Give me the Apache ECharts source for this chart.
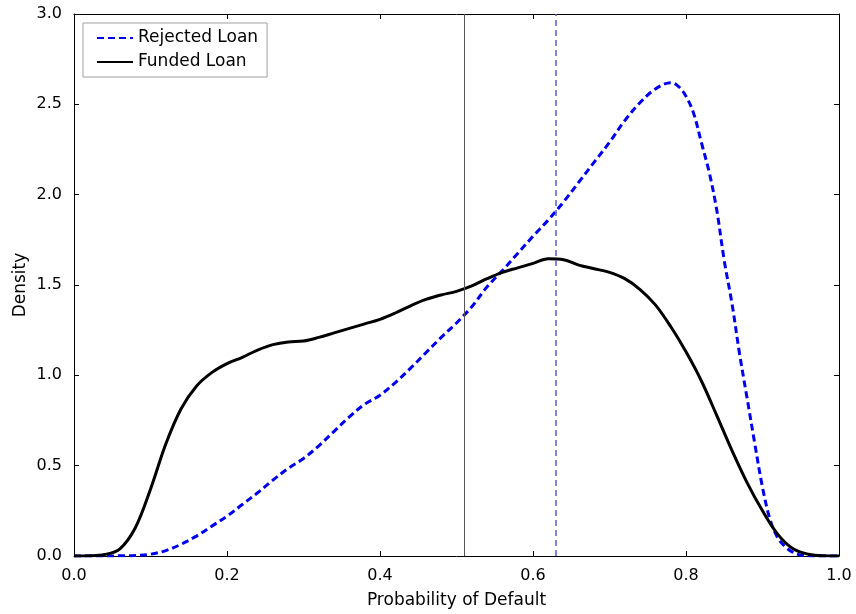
<!DOCTYPE html>
<html>
<head>
<meta charset="utf-8">
<script src="https://cdn.jsdelivr.net/npm/echarts@6/dist/echarts.min.js"></script>
<style>html,body{margin:0;padding:0;background:#fff}#c{width:856px;height:614px}</style>
</head>
<body>
<div id="c"></div>
<script>
const fundedX = [0.00,0.02,0.04,0.06,0.08,0.10,0.12,0.14,0.16,0.18,0.20,0.22,0.24,0.26,0.28,0.30,0.32,0.34,0.36,0.38,0.40,0.42,0.44,0.46,0.48,0.50,0.52,0.54,0.56,0.58,0.60,0.62,0.64,0.66,0.68,0.70,0.72,0.74,0.76,0.78,0.80,0.82,0.84,0.86,0.88,0.90,0.92,0.94,0.96,0.98,1.00];
const fundedY = [0,0.001,0.008,0.04,0.155,0.37,0.62,0.815,0.94,1.015,1.065,1.10,1.14,1.17,1.185,1.19,1.21,1.235,1.26,1.285,1.31,1.345,1.385,1.42,1.445,1.465,1.495,1.535,1.57,1.595,1.62,1.645,1.64,1.61,1.59,1.57,1.535,1.475,1.39,1.27,1.13,0.97,0.78,0.585,0.405,0.25,0.12,0.04,0.01,0.001,0];
const rejectedX = [0.00,0.02,0.04,0.06,0.08,0.10,0.12,0.14,0.16,0.18,0.20,0.22,0.24,0.26,0.28,0.30,0.32,0.34,0.36,0.38,0.40,0.42,0.44,0.46,0.48,0.50,0.52,0.54,0.56,0.58,0.60,0.62,0.64,0.66,0.68,0.70,0.72,0.74,0.76,0.78,0.79,0.80,0.81,0.82,0.83,0.84,0.85,0.86,0.87,0.88,0.89,0.90,0.91,0.92,0.93,0.94,0.95,0.96,0.98,1.00];
const rejectedY = [0,0,0.0005,0.001,0.003,0.01,0.03,0.065,0.11,0.165,0.22,0.285,0.35,0.42,0.485,0.54,0.61,0.69,0.77,0.84,0.89,0.96,1.04,1.125,1.21,1.29,1.38,1.49,1.58,1.675,1.77,1.86,1.96,2.07,2.18,2.29,2.41,2.51,2.585,2.62,2.60,2.545,2.45,2.29,2.13,1.92,1.635,1.40,1.12,0.87,0.62,0.38,0.20,0.10,0.05,0.02,0.005,0.001,0,0];
const vLines = [0.507, 0.630];
const xTicks = [0, 0.2, 0.4, 0.6, 0.8, 1.0];
const yTicks = [0, 0.5, 1.0, 1.5, 2.0, 2.5, 3.0];
const seriesNames = ['Rejected Loan', 'Funded Loan'];

const font = 'DejaVu Sans';
const chart = echarts.init(document.getElementById('c'), null, {renderer: 'canvas'});
const pairs = (xs, ys) => xs.map((x, i) => [x, ys[i]]);

const baseX = {
  type: 'value', min: xTicks[0], max: xTicks[xTicks.length - 1], interval: 0.2,
  axisLine: {show: true, onZero: false, lineStyle: {color: '#000', width: 1}},
  axisTick: {show: true, inside: true, length: 5, lineStyle: {color: '#000'}},
  splitLine: {show: false}
};
const baseY = {
  type: 'value', min: yTicks[0], max: yTicks[yTicks.length - 1], interval: 0.5,
  axisLine: {show: true, onZero: false, lineStyle: {color: '#000', width: 1}},
  axisTick: {show: true, inside: true, length: 5, lineStyle: {color: '#000'}},
  splitLine: {show: false}
};

chart.setOption({
  backgroundColor: '#fff',
  animation: false,
  grid: {left: 74, right: 17, top: 14, bottom: 57, containLabel: false},
  legend: {
    orient: 'vertical', left: 83, top: 23,
    padding: [5, 9, 5, 13], itemGap: 4, itemWidth: 36, itemHeight: 14,
    borderColor: '#a0a0a0', borderWidth: 1, borderRadius: 0,
    itemStyle: {opacity: 0},
    textStyle: {fontFamily: font, fontSize: 17, color: '#000', lineHeight: 20},
    data: seriesNames
  },
  xAxis: [
    Object.assign({}, baseX, {
      position: 'bottom',
      name: 'Probability of Default', nameLocation: 'middle', nameGap: 36,
      nameMoveOverlap: false,
      nameTextStyle: {fontFamily: font, fontSize: 17, color: '#000'},
      axisLabel: {fontFamily: font, fontSize: 16, color: '#000', margin: 12,
        formatter: v => v.toFixed(1)}
    }),
    Object.assign({}, baseX, {position: 'top', axisLabel: {show: false}})
  ],
  yAxis: [
    Object.assign({}, baseY, {
      position: 'left',
      name: 'Density', nameLocation: 'middle', nameGap: 45,
      nameMoveOverlap: false,
      nameTextStyle: {fontFamily: font, fontSize: 17, color: '#000'},
      axisLabel: {fontFamily: font, fontSize: 16, color: '#000', margin: 12,
        formatter: v => v.toFixed(1)}
    }),
    Object.assign({}, baseY, {position: 'right', axisLabel: {show: false}})
  ],
  series: [
    {
      name: seriesNames[0], type: 'line', xAxisIndex: 0, yAxisIndex: 0,
      data: pairs(rejectedX, rejectedY), smooth: 0.35, showSymbol: false, symbol: 'none',
      lineStyle: {color: '#0000ee', width: 3, type: [7, 4]},
      itemStyle: {color: '#0000ee'}, z: 3
    },
    {
      name: seriesNames[1], type: 'line', xAxisIndex: 0, yAxisIndex: 0,
      data: pairs(fundedX, fundedY), smooth: 0.35, showSymbol: false, symbol: 'none',
      lineStyle: {color: '#000', width: 3, type: 'solid'},
      itemStyle: {color: '#000'}, z: 4,
      markLine: {
        silent: true, symbol: ['none', 'none'], label: {show: false},
        data: [
          {xAxis: vLines[0], lineStyle: {color: '#555', width: 1, type: 'solid'}},
          {xAxis: vLines[1], lineStyle: {color: '#5a5ad8', width: 1.5, type: [6, 4]}}
        ]
      }
    }
  ]
});
</script>
</body>
</html>
